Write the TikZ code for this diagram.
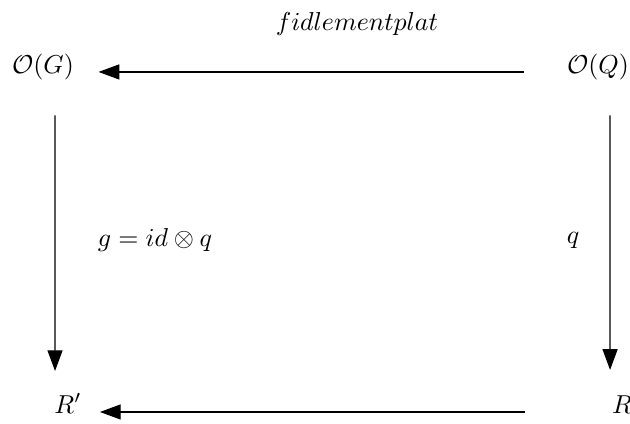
\documentclass[tikz,border=0pt]{standalone}
\usetikzlibrary{arrows.meta}
\begin{document}
\begin{tikzpicture}[x=0.386pt,y=-0.386pt,
  obj/.style={inner sep=0pt, anchor=base},
  lbl/.style={inner sep=0pt},
  arr/.style={-{Triangle[length=8pt,width=5.8pt]}, line width=0.45pt}]
\useasboundingbox (0,0) rectangle (630,423);
\node[obj] (og) at (43,73.5) {$\mathcal{O}(G)$};
\node[obj] (oq) at (598,73.5) {$\mathcal{O}(Q)$};
\node[obj] (rp) at (68,413) {$R'$};
\node[obj] (r) at (622,413) {$R$};
\node[lbl] (top) at (357,24) {$fidlementplat$};
\node[lbl] (gl) at (155,240) {$g = id \otimes q$};
\node[lbl] (ql) at (573,240) {$q$};
\draw[arr, shorten <=16.6pt, shorten >=9.3pt] ([yshift=0.6pt]oq.base west) -- ([yshift=0.6pt]og.base east);
\draw[arr, shorten <=33.6pt, shorten >=6.9pt] ([yshift=0.4pt]r.base west) -- ([yshift=0.4pt]rp.base east);
\draw[arr, shorten <=13.5pt, shorten >=8.5pt] ([xshift=4.6pt]og.south) -- ([xshift=-5pt]rp.north);
\draw[arr, shorten <=13.5pt, shorten >=9.6pt] ([xshift=4.6pt]oq.south) -- ([xshift=-4.6pt]r.north);
\end{tikzpicture}
\end{document}
